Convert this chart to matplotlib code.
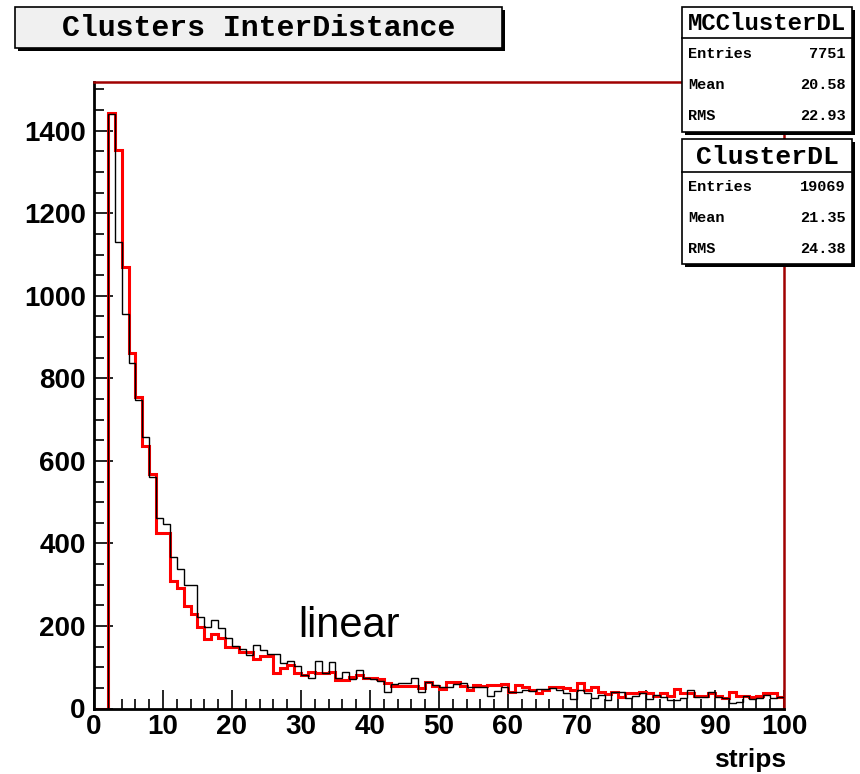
import numpy as np
import matplotlib
matplotlib.use("Agg")
import matplotlib.pyplot as plt
from matplotlib.patches import Rectangle

# bin contents, 100 bins of width 1 from 0 to 100
edges = np.arange(0, 101, 1)

cluster_dl = [
    0, 0, 1441, 1131, 957, 837, 748, 658, 561, 462,
    448, 367, 338, 300, 300, 221, 198, 214, 195, 171,
    151, 143, 129, 154, 141, 131, 131, 110, 114, 104,
    82, 75, 116, 85, 112, 73, 89, 71, 94, 75,
    71, 67, 41, 59, 61, 61, 75, 41, 65, 56,
    51, 53, 59, 62, 53, 53, 53, 31, 43, 53,
    41, 41, 46, 43, 48, 48, 50, 46, 37, 22,
    44, 38, 25, 33, 20, 39, 41, 25, 30, 37,
    22, 33, 27, 20, 20, 25, 46, 27, 29, 41,
    29, 25, 14, 16, 30, 23, 26, 33, 25, 27,
]

mc_cluster_dl = [
    0, 0, 1443, 1353, 1070, 861, 755, 636, 567, 425,
    425, 310, 292, 248, 230, 198, 169, 180, 171, 150,
    150, 137, 137, 121, 127, 127, 85, 97, 105, 87,
    81, 88, 85, 85, 88, 69, 69, 77, 81, 73,
    73, 71, 61, 55, 54, 54, 54, 50, 65, 54,
    47, 63, 63, 54, 45, 57, 54, 57, 57, 59,
    41, 57, 53, 45, 37, 44, 53, 51, 50, 44,
    61, 46, 53, 41, 35, 41, 29, 38, 37, 39,
    37, 30, 38, 30, 48, 38, 38, 31, 30, 38,
    30, 26, 41, 31, 30, 29, 30, 38, 37, 29,
]

stats_mc = [("Entries", "7751"), ("Mean", "20.58"), ("RMS", "22.93")]
stats_data = [("Entries", "19069"), ("Mean", "21.35"), ("RMS", "24.38")]

W, H = 860, 774
mono = "Liberation Mono"
sans = "Liberation Sans"


def fx(px):
    return px / W


def fy(py):
    return 1 - py / H


def box(fig, x0, y0, x1, y1, face="white", shadow=3):
    fig.add_artist(Rectangle((fx(x0 + shadow), fy(y1 + shadow)), (x1 - x0) / W, (y1 - y0) / H,
                             transform=fig.transFigure, facecolor="black", edgecolor="black",
                             lw=0, zorder=5))
    fig.add_artist(Rectangle((fx(x0), fy(y1)), (x1 - x0) / W, (y1 - y0) / H,
                             transform=fig.transFigure, facecolor=face, edgecolor="black",
                             lw=1.2, zorder=6))


fig = plt.figure(figsize=(W / 100, H / 100), dpi=100)
ax = fig.add_axes([fx(94), fy(708.5), (784 - 94) / W, (708.5 - 82) / H])

ax.stairs(mc_cluster_dl, edges, color="red", lw=2.2, zorder=2)
ax.stairs(cluster_dl, edges, color="black", lw=1.0, zorder=3)

ax.set_xlim(0, 100)
ax.set_ylim(0, 1518)
ax.set_xticks(np.arange(0, 101, 10))
ax.set_xticks(np.arange(0, 101, 2), minor=True)
ax.set_yticks(np.arange(0, 1401, 200))
ax.set_yticks(np.arange(0, 1501, 50), minor=True)
ax.tick_params(which="both", direction="in", width=1.2, colors="black")
ax.tick_params(which="major", length=14)
ax.tick_params(which="minor", length=7)
ax.tick_params(axis="y", pad=6)
ax.tick_params(axis="x", pad=4)
for lab in ax.get_xticklabels() + ax.get_yticklabels():
    lab.set_fontfamily(sans)
    lab.set_fontweight("bold")
    lab.set_fontsize(20)

for side in ["left", "bottom"]:
    ax.spines[side].set_linewidth(2)
    ax.spines[side].set_color("black")
for side in ["top", "right"]:
    ax.spines[side].set_linewidth(1.8)
    ax.spines[side].set_color("#a00000")

ax.text(29.6, 173, "linear", fontfamily=sans, fontsize=30, ha="left", va="baseline")
fig.text(fx(786), fy(760), "strips", fontfamily=sans, fontweight="bold", fontsize=19,
         ha="right", va="center")

# title box
box(fig, 15, 7, 502, 48, face="#f0f0f0")
fig.text(fx(258.5), fy(28), "Clusters InterDistance", fontfamily=mono, fontweight="bold",
         fontsize=21.5, ha="center", va="center", zorder=7)

# stats boxes
for (y0, y1, ysep, name, rows) in [(7, 132, 38, "MCClusterDL", stats_mc),
                                   (139, 264, 172, "ClusterDL", stats_data)]:
    box(fig, 682, y0, 852, y1)
    fig.add_artist(plt.Line2D([fx(682), fx(852)], [fy(ysep), fy(ysep)],
                              transform=fig.transFigure, color="black", lw=1.2, zorder=7))
    hsize = 17.3 if name == "MCClusterDL" else 19
    fig.text(fx(767), fy((y0 + ysep) / 2 + 1), name, fontfamily=mono, fontweight="bold",
             fontsize=hsize, ha="center", va="center", zorder=7)
    step = (y1 - ysep) / 3
    for i, (lab, val) in enumerate(rows):
        yy = ysep + step * (i + 0.5)
        fig.text(fx(688), fy(yy), lab, fontfamily=mono, fontweight="bold", fontsize=11,
                 ha="left", va="center", zorder=7)
        fig.text(fx(846), fy(yy), val, fontfamily=mono, fontweight="bold", fontsize=11,
                 ha="right", va="center", zorder=7)

fig.savefig("out.png", dpi=100)
